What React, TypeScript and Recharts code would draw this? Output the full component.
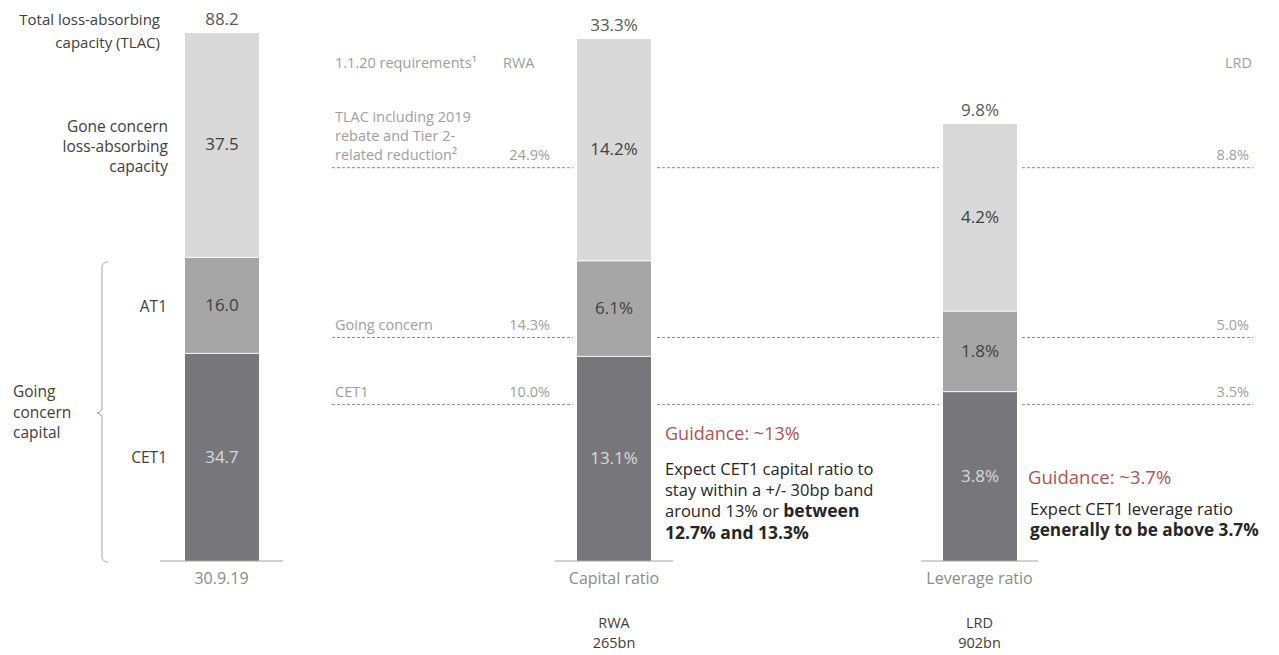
import React from 'react';
import { BarChart, Bar, XAxis, YAxis, LabelList, ReferenceLine } from 'recharts';

// capital stack, one bar per measure
const categories = ['30.9.19', 'Capital ratio', 'Leverage ratio'];
const cet1 = [34.7, 13.1, 3.8];
const at1 = [16.0, 6.1, 1.8];
const goneConcern = [37.5, 14.2, 4.2];
const totals = ['88.2', '33.3%', '9.8%'];
const suffixes = ['', '%', '%'];
const baseNames = ['', 'RWA', 'LRD'];
const baseAmounts = ['', '265bn', '902bn'];

// 1.1.20 requirements
const reqNames = [
  ['TLAC including 2019', 'rebate and Tier 2-', 'related reduction²'],
  ['Going concern'],
  ['CET1'],
];
const reqRwa = [24.9, 14.3, 10.0];
const reqLrd = [8.8, 5.0, 3.5];

const FONT = '"Open Sans", "Noto Sans", sans-serif';
const COLORS = { cet1: '#77777b', at1: '#a6a6a6', gone: '#d9d9d9' };
const CHART_H = 655;
const PLOT_BOTTOM = 561;
const AXIS_H = 30;

// horizontal placement of each bar's little chart
const SLOTS = [
  { left: 160, width: 123, top: 32 },
  { left: 555, width: 118, top: 38 },
  { left: 921, width: 117, top: 123 },
];

const Segment = (props: any) => {
  const { x, y, width, height, fill } = props;
  if (!height || height <= 0) return null;
  return (
    <g>
      <rect x={x - 4} y={y} width={width + 8} height={height} fill="#ffffff" />
      <rect x={x} y={y + 1} width={width} height={Math.max(height - 1, 0)} fill={fill} />
    </g>
  );
};

const BaseTick = (props: any) => {
  const { x, y, payload } = props;
  const i = categories.indexOf(payload.value);
  return (
    <g fontFamily={FONT}>
      <text x={x} y={y + 15} textAnchor="middle" fill="#8c8c8c" fontSize={16}>
        {payload.value}
      </text>
      {baseNames[i] && (
        <text x={x} y={y + 59} textAnchor="middle" fill="#404040" fontSize={14.5}>
          {baseNames[i]}
        </text>
      )}
      {baseAmounts[i] && (
        <text x={x} y={y + 79} textAnchor="middle" fill="#404040" fontSize={14.5}>
          {baseAmounts[i]}
        </text>
      )}
    </g>
  );
};

function StackBar({ index }: { index: number }) {
  const slot = SLOTS[index];
  const data = [
    {
      name: categories[index],
      cet1: cet1[index],
      at1: at1[index],
      gone: goneConcern[index],
      total: totals[index],
    },
  ];
  const fmt = (v: any) => Number(v).toFixed(1) + suffixes[index];
  return (
    <div style={{ position: 'absolute', left: slot.left, top: 0 }}>
      <BarChart
        width={slot.width}
        height={CHART_H}
        data={data}
        margin={{ top: slot.top, right: 0, left: 0, bottom: CHART_H - PLOT_BOTTOM - AXIS_H }}
        barSize={74}
      >
        <XAxis
          dataKey="name"
          height={AXIS_H}
          tickLine={false}
          axisLine={{ stroke: '#a6a6a6' }}
          tick={<BaseTick />}
          interval={0}
        />
        <YAxis hide domain={[0, 'dataMax']} />
        <Bar dataKey="cet1" stackId="s" fill={COLORS.cet1} shape={<Segment />} isAnimationActive={false}>
          <LabelList dataKey="cet1" position="center" formatter={fmt} fill="#dadada" fontSize={17} fontFamily={FONT} />
        </Bar>
        <Bar dataKey="at1" stackId="s" fill={COLORS.at1} shape={<Segment />} isAnimationActive={false}>
          <LabelList dataKey="at1" position="center" formatter={fmt} fill="#404040" fontSize={17} fontFamily={FONT} />
        </Bar>
        <Bar dataKey="gone" stackId="s" fill={COLORS.gone} shape={<Segment />} isAnimationActive={false}>
          <LabelList dataKey="gone" position="center" formatter={fmt} fill="#404040" fontSize={17} fontFamily={FONT} />
          <LabelList dataKey="total" position="top" offset={7} fill="#595959" fontSize={17} fontFamily={FONT} />
        </Bar>
      </BarChart>
    </div>
  );
}

const ReqLabel = (props: any) => {
  const { viewBox, i } = props;
  const { x, y, width } = viewBox;
  const lines = reqNames[i];
  const base = y - 8;
  return (
    <g fontFamily={FONT} fontSize={14.5} fill="#a0a0a0">
      {lines.map((t, k) => (
        <text key={k} x={x + 3} y={base - (lines.length - 1 - k) * 19}>
          {t}
        </text>
      ))}
      <text x={x + 218} y={base} textAnchor="end">
        {reqRwa[i].toFixed(1)}%
      </text>
      <text x={x + width - 4} y={base} textAnchor="end">
        {reqLrd[i].toFixed(1)}%
      </text>
    </g>
  );
};

function RequirementLines() {
  const lrdTop = cet1[2] + at1[2] + goneConcern[2];
  const left = 332;
  const width = 921;
  return (
    <div style={{ position: 'absolute', left, top: 0 }}>
      <BarChart
        width={width}
        height={CHART_H}
        data={[{ name: 'req' }]}
        margin={{ top: SLOTS[2].top, right: 0, left: 0, bottom: CHART_H - PLOT_BOTTOM }}
      >
        <XAxis dataKey="name" hide />
        <YAxis hide domain={[0, lrdTop]} allowDataOverflow />
        {reqLrd.map((v, i) => (
          <ReferenceLine
            key={i}
            y={v}
            stroke="#8c8c8c"
            strokeDasharray="3 2"
            label={(p: any) => <ReqLabel {...p} i={i} />}
          />
        ))}
      </BarChart>
    </div>
  );
}

const txt = (extra: React.CSSProperties): React.CSSProperties => ({
  position: 'absolute',
  fontFamily: FONT,
  whiteSpace: 'nowrap',
  ...extra,
});

export default function App() {
  return (
    <div style={{ position: 'absolute', left: 0, top: 0, width: 1279, height: 655, background: '#fff', overflow: 'hidden' }}>
      <RequirementLines />
      {categories.map((_, i) => (
        <StackBar key={i} index={i} />
      ))}

      {/* left side captions */}
      <div style={txt({ left: 0, width: 160, top: 8, textAlign: 'right', fontSize: 15, lineHeight: '23px', color: '#404040' })}>
        Total loss-absorbing
        <br />
        capacity (TLAC)
      </div>
      <div style={txt({ left: 0, width: 168, top: 116, textAlign: 'right', fontSize: 15.5, lineHeight: '20px', color: '#404040' })}>
        Gone concern
        <br />
        loss-absorbing
        <br />
        capacity
      </div>
      <div style={txt({ left: 0, width: 167, top: 296, textAlign: 'right', fontSize: 15.5, lineHeight: '20px', color: '#404040' })}>
        AT1
      </div>
      <div style={txt({ left: 0, width: 167, top: 447, textAlign: 'right', fontSize: 15.5, lineHeight: '20px', color: '#404040' })}>
        CET1
      </div>
      <div style={txt({ left: 13, top: 381, fontSize: 15.5, lineHeight: '20.5px', color: '#404040' })}>
        Going
        <br />
        concern
        <br />
        capital
      </div>
      <svg style={{ position: 'absolute', left: 0, top: 0 }} width={130} height={600}>
        <path
          d="M108 262 Q102 262 102 268 L102 408 Q102 412 97 413 Q102 414 102 418 L102 556 Q102 562 108 562"
          fill="none"
          stroke="#a6a6a6"
          strokeWidth={1}
        />
      </svg>

      {/* requirement headers */}
      <div style={txt({ left: 335, top: 53, fontSize: 14.5, lineHeight: '20px', color: '#a0a0a0' })}>1.1.20 requirements¹</div>
      <div style={txt({ left: 503, top: 53, fontSize: 14.5, lineHeight: '20px', color: '#a0a0a0' })}>RWA</div>
      <div style={txt({ left: 1100, width: 152, top: 53, textAlign: 'right', fontSize: 14.5, lineHeight: '20px', color: '#a0a0a0' })}>LRD</div>

      {/* guidance notes */}
      <div style={txt({ left: 665, top: 421, fontSize: 18, lineHeight: '24px', color: '#b5524e' })}>Guidance: ~13%</div>
      <div style={txt({ left: 665, top: 459, fontSize: 16.5, lineHeight: '20.5px', color: '#262626' })}>
        Expect CET1 capital ratio to
        <br />
        stay within a +/- 30bp band
        <br />
        around 13% or <b style={{ fontSize: 17.5 }}>between</b>
        <br />
        <b style={{ fontSize: 17.5 }}>12.7% and 13.3%</b>
      </div>
      <div style={txt({ left: 1028, top: 465, fontSize: 18.5, lineHeight: '24px', color: '#b5524e' })}>Guidance: ~3.7%</div>
      <div style={txt({ left: 1030, top: 499, fontSize: 16.5, lineHeight: '20.5px', color: '#262626' })}>
        Expect CET1 leverage ratio
        <br />
        <b style={{ fontSize: 17.2 }}>generally to be above 3.7%</b>
      </div>
    </div>
  );
}
